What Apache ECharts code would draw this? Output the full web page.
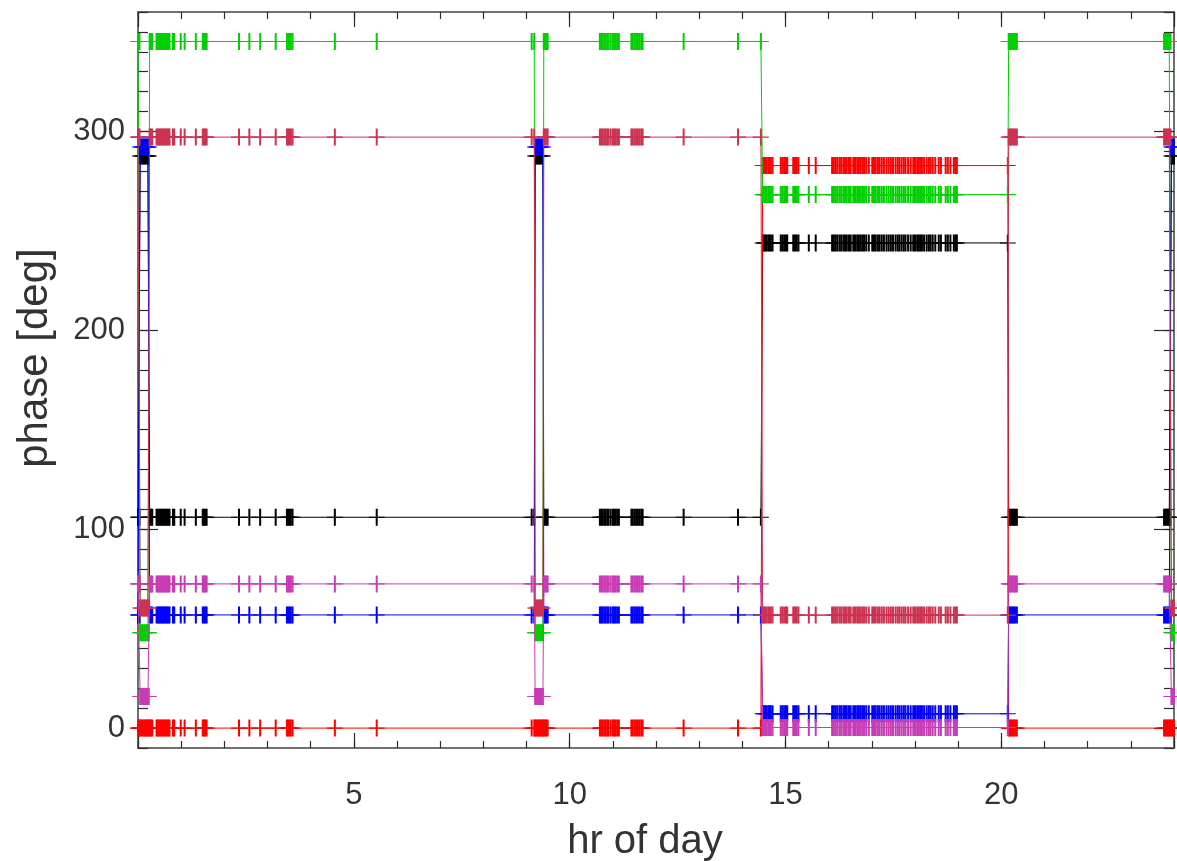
<!DOCTYPE html>
<html><head><meta charset="utf-8">
<script src="https://cdn.jsdelivr.net/npm/echarts@6/dist/echarts.min.js"></script>
<style>html,body{margin:0;padding:0;background:#fff}#c{width:1177px;height:861px}</style>
</head><body><div id="c"></div>
<script>
// ---- timestamps (hour of day), grouped by phase state ----
const tPre  = [0.00, 0.02, 0.035];
const tAlt1 = [0.05, 0.08, 0.11, 0.14, 0.17, 0.20, 0.23, 0.25];
const tBase1 = [0.27, 0.30, 0.33, 0.43, 0.46, 0.49, 0.52, 0.55, 0.58, 0.61, 0.64, 0.67, 0.70, 0.73,
  0.81, 0.84, 0.99, 1.08, 1.34, 1.50, 1.53, 1.56, 1.59, 2.34, 2.58, 2.83, 3.19,
  3.45, 3.48, 3.51, 3.54, 3.58, 4.56, 5.53, 9.12, 9.18];
const tAlt2 = [9.20, 9.23, 9.26, 9.29, 9.32, 9.35, 9.38];
const tBase2 = [9.40, 9.43, 9.46, 9.49, 10.70, 10.73, 10.76, 10.80, 10.83, 10.87, 10.90, 10.95,
  11.00, 11.03, 11.06, 11.10, 11.14, 11.43, 11.46, 11.50, 11.54, 11.58, 11.62, 11.66, 11.69,
  12.64, 13.90, 14.43];
const tAft = [14.47, 14.50, 14.53, 14.56, 14.60, 14.63, 14.66, 14.70, 14.89, 14.93, 14.97, 15.01, 15.04,
  15.18, 15.22, 15.26, 15.30, 15.54, 15.70,
  16.08, 16.12, 16.16, 16.20, 16.25, 16.29, 16.34, 16.38, 16.42, 16.47, 16.51,
  16.57, 16.61, 16.66, 16.70, 16.74, 16.78, 16.82, 16.87, 16.93, 17.01, 17.05, 17.09,
  17.14, 17.18, 17.23, 17.28, 17.34, 17.39, 17.44, 17.49, 17.55, 17.60, 17.64, 17.69, 17.74,
  17.78, 17.84, 17.90, 17.96, 18.00, 18.05, 18.09, 18.13, 18.16, 18.21, 18.27, 18.32,
  18.36, 18.41, 18.47, 18.55, 18.60, 18.71, 18.76, 18.82, 18.90, 18.94, 18.97, 20.15];
const tBase3 = [20.17, 20.20, 20.23, 20.26, 20.29, 20.32, 20.36,
  23.77, 23.80, 23.83, 23.86, 23.89, 23.92];
const tAlt3 = [23.94, 23.97, 24.00];

// state of each time block: 0 = base, 1 = alternate, 2 = afternoon
const blockTimes  = [tPre, tAlt1, tBase1, tAlt2, tBase2, tAft, tBase3, tAlt3];
const blockStates = [0, 1, 0, 1, 0, 2, 0, 1];

// ---- phase [deg] of each trace in states [base, alternate, afternoon] ----
const blackPhase   = [106.0, 287.6, 243.9];
const redPhase     = [0.0, 0.0, 282.8];
const greenPhase   = [345.2, 48.0, 268.2];
const bluePhase    = [56.9, 292.1, 7.2];
const magentaPhase = [72.5, 15.9, 0.3];
const crimsonPhase = [297.1, 60.4, 56.8];

const traceValues = [blackPhase, redPhase, greenPhase, bluePhase, magentaPhase, crimsonPhase];
const traceColors = ['#000000', '#ff0000', '#00d000', '#0000ff', '#c83cb4', '#cc3350'];

const xTickLabels = [5, 10, 15, 20];
const yTickLabels = [0, 100, 200, 300];

function buildData(vals) {
  const out = [];
  blockTimes.forEach((ts, i) => ts.forEach(t => out.push([t, vals[blockStates[i]]])));
  return out;
}

const PLUS = 'path://M70,0h20v75h70v10h-70v75h-20v-75h-70v-10h70z';
const FRAME = {show: true, onZero: false, lineStyle: {color: '#707070', width: 2}};
const NOLINE = {show: false, onZero: false};
const TICKC = {color: '#2a2a2a', width: 1.2};
const FONT = 'Liberation Sans, Helvetica, Arial, sans-serif';

function xAx(pos, major) {
  return {
    type: 'value', min: 0, max: 24, position: pos,
    interval: major ? 5 : 1,
    axisLine: major ? NOLINE : FRAME,
    axisTick: {show: true, inside: true, length: major ? 15 : 7, lineStyle: TICKC},
    axisLabel: (pos === 'bottom' && !major) ? {
      show: true, margin: 32, fontSize: 31, color: '#333', fontFamily: FONT,
      formatter: v => xTickLabels.indexOf(v) >= 0 ? String(v) : ''
    } : {show: false},
    splitLine: {show: false}
  };
}
function yAx(pos, major) {
  const a = {
    type: 'value', min: -10, max: 360, position: pos,
    axisLine: major ? NOLINE : FRAME,
    axisTick: {show: true, inside: true, length: major ? 20 : 10, lineStyle: TICKC},
    axisLabel: (pos === 'left' && !major) ? {
      show: true, margin: 13, fontSize: 31, color: '#333', fontFamily: FONT,
      formatter: v => yTickLabels.indexOf(v) >= 0 ? String(v) : ''
    } : {show: false},
    splitLine: {show: false}
  };
  if (major) { a.axisTick.customValues = yTickLabels; }
  else { a.interval = 10; }
  return a;
}

const chart = echarts.init(document.getElementById('c'), null, {renderer: 'canvas'});
chart.setOption({
  animation: false,
  backgroundColor: '#fff',
  grid: {left: 138, top: 12, right: 1, bottom: 113, containLabel: false},
  xAxis: [xAx('bottom', false), xAx('top', false), xAx('bottom', true), xAx('top', true)],
  yAxis: [yAx('left', false), yAx('right', false), yAx('left', true), yAx('right', true)],
  graphic: [
    {type: 'text', x: 645, y: 842, style: {text: 'hr of day', fontSize: 40, fontFamily: FONT, fill: '#333',
      textAlign: 'center', textVerticalAlign: 'middle'}},
    {type: 'text', x: 35, y: 358, rotation: Math.PI / 2, style: {text: 'phase [deg]', fontSize: 42, fontFamily: FONT, fill: '#333',
      textAlign: 'center', textVerticalAlign: 'middle'}}
  ],
  series: traceValues.map((vals, i) => ({
    type: 'line', xAxisIndex: 0, yAxisIndex: 0,
    data: buildData(vals),
    symbol: PLUS, symbolSize: [16, 17], showSymbol: true, clip: false,
    lineStyle: {width: 1, color: traceColors[i]},
    itemStyle: {color: traceColors[i]},
    emphasis: {disabled: true},
    z: 2 + i
  }))
});
</script></body></html>
